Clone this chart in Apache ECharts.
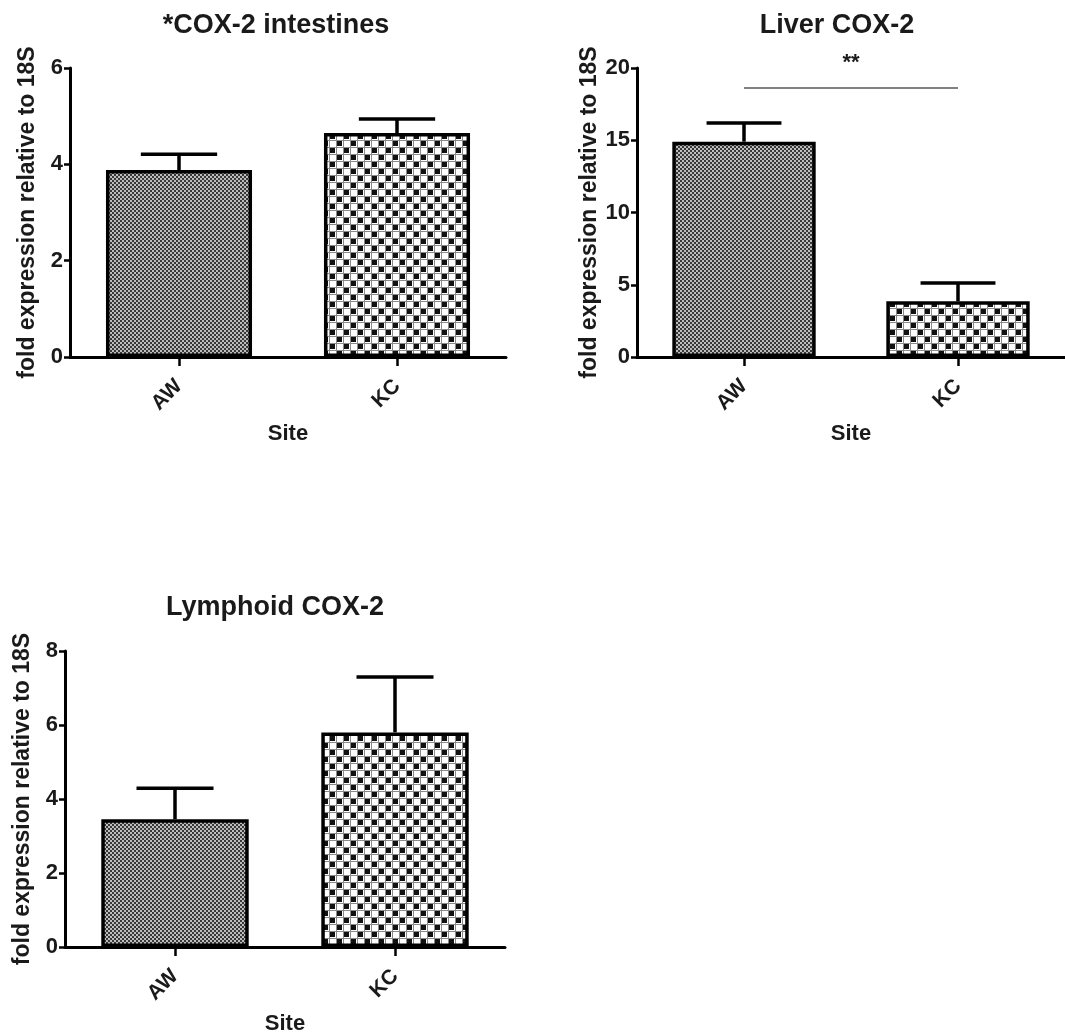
<!DOCTYPE html>
<html>
<head>
<meta charset="utf-8">
<script src="https://cdn.jsdelivr.net/npm/echarts@6/dist/echarts.min.js"></script>
<style>
html,body{margin:0;padding:0;background:#fff;}
#chart{width:1065px;height:1036px;}
</style>
</head>
<body>
<div id="chart"></div>
<script>
// ---- Data ----
const categories = ['AW', 'KC'];
const titles = ['*COX-2 intestines', 'Liver COX-2', 'Lymphoid COX-2'];
const intestinesMean = [3.88, 4.65];
const intestinesErr = [0.33, 0.29];
const liverMean = [14.9, 3.85];
const liverErr = [1.3, 1.27];
const lymphoidMean = [3.45, 5.8];
const lymphoidErr = [0.84, 1.5];
const yMax = [6, 20, 8];
const yInterval = [2, 5, 2];
const sigLevel = 18.6;
const sigText = '**';
const yName = 'fold expression relative to 18S';
const xName = 'Site';

// ---- Patterns ----
function makeFine() {
  const c = document.createElement('canvas');
  c.width = 4; c.height = 4;
  const g = c.getContext('2d');
  g.fillStyle = '#bdbdbd'; g.fillRect(0, 0, 4, 4);
  g.fillStyle = '#383838';
  g.fillRect(0, 0, 2, 2); g.fillRect(2, 2, 2, 2);
  return c;
}
function makeCoarse() {
  const c = document.createElement('canvas');
  c.width = 14; c.height = 14;
  const g = c.getContext('2d');
  g.fillStyle = '#ffffff'; g.fillRect(0, 0, 14, 14);
  g.fillStyle = '#111111';
  g.fillRect(1, 1, 5, 5); g.fillRect(8, 8, 5, 5);
  g.fillStyle = '#8a8a8a';
  g.fillRect(0, 0, 14, 1); g.fillRect(0, 7, 14, 1);
  g.fillRect(0, 0, 1, 14); g.fillRect(7, 0, 1, 14);
  return c;
}
const fineFill = { image: makeFine(), repeat: 'repeat' };
const coarseFill = { image: makeCoarse(), repeat: 'repeat' };

const FONT = 'Liberation Sans, Arial, sans-serif';
const TXT = '#1a1a1a';

const grids = [
  { left: 70, top: 68, width: 436, height: 289 },
  { left: 637, top: 68, width: 432, height: 289 },
  { left: 65, top: 651, width: 440, height: 297 }
];
const titlePos = [
  { left: 271, top: 7 },
  { left: 832, top: 7 },
  { left: 270, top: 589 }
];

const means = [intestinesMean, liverMean, lymphoidMean];
const errs = [intestinesErr, liverErr, lymphoidErr];

const option = {
  animation: false,
  backgroundColor: '#fff',
  title: titles.map((t, i) => ({
    text: t,
    left: titlePos[i].left,
    top: titlePos[i].top,
    textAlign: 'center',
    textStyle: { fontFamily: FONT, fontWeight: 'bold', fontSize: 27, color: TXT }
  })),
  grid: grids,
  xAxis: grids.map((g, i) => ({
    type: 'category',
    gridIndex: i,
    data: categories,
    name: xName,
    nameLocation: 'middle',
    nameGap: 66,
    nameTextStyle: { fontFamily: FONT, fontWeight: 'bold', fontSize: 22, color: TXT },
    axisLine: { show: true, lineStyle: { color: '#000', width: 3 } },
    axisTick: { show: true, alignWithLabel: true, length: 9, lineStyle: { color: '#000', width: 2.5 } },
    axisLabel: { rotate: 45, margin: 26, fontFamily: FONT, fontWeight: 'bold', fontSize: 21, color: TXT },
    splitLine: { show: false }
  })),
  yAxis: grids.map((g, i) => ({
    type: 'value',
    gridIndex: i,
    min: 0,
    max: yMax[i],
    interval: yInterval[i],
    name: yName,
    nameLocation: 'middle',
    nameGap: 31,
    nameTextStyle: { fontFamily: FONT, fontWeight: 'bold', fontSize: 23, color: TXT },
    axisLine: { show: true, lineStyle: { color: '#000', width: 3 } },
    axisTick: { show: true, length: 6, lineStyle: { color: '#000', width: 2.5 } },
    axisLabel: { margin: 7, fontFamily: FONT, fontWeight: 'bold', fontSize: 22, color: TXT },
    splitLine: { show: false }
  })),
  series: []
};

means.forEach((m, i) => {
  option.series.push({
    type: 'bar',
    xAxisIndex: i,
    yAxisIndex: i,
    barWidth: '67%',
    data: m.map((v, j) => ({
      value: v,
      itemStyle: { color: j === 0 ? fineFill : coarseFill, borderColor: '#000', borderWidth: 3.5 }
    })),
    z: 2
  });
  option.series.push({
    type: 'custom',
    xAxisIndex: i,
    yAxisIndex: i,
    z: 3,
    data: m.map((v, j) => [j, v, v + errs[i][j]]),
    renderItem: function (params, api) {
      const base = api.coord([api.value(0), api.value(1)]);
      const top = api.coord([api.value(0), api.value(2)]);
      const half = api.size([1, 0])[0] * 0.175;
      const st = { stroke: '#000', lineWidth: 3.5 };
      return {
        type: 'group',
        children: [
          { type: 'line', shape: { x1: base[0], y1: base[1], x2: top[0], y2: top[1] }, style: st },
          { type: 'line', shape: { x1: top[0] - half, y1: top[1], x2: top[0] + half, y2: top[1] }, style: st }
        ]
      };
    }
  });
});

// significance line on liver panel
option.series.push({
  type: 'line',
  xAxisIndex: 1,
  yAxisIndex: 1,
  data: [],
  markLine: {
    symbol: 'none',
    silent: true,
    lineStyle: { color: '#808080', width: 2, type: 'solid' },
    label: {
      show: true,
      position: 'insideMiddleTop',
      distance: 14,
      formatter: sigText,
      fontFamily: FONT, fontWeight: 'bold', fontSize: 22, color: TXT
    },
    data: [[{ coord: [categories[0], sigLevel] }, { coord: [categories[1], sigLevel] }]]
  }
});

const chart = echarts.init(document.getElementById('chart'), null, { renderer: 'canvas' });
chart.setOption(option);
</script>
</body>
</html>
